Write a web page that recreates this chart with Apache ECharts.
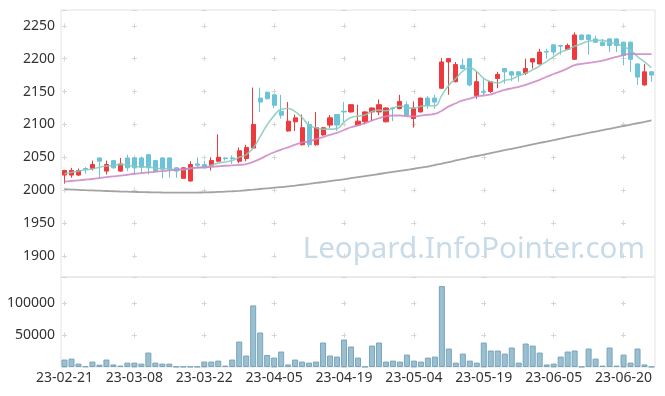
<!DOCTYPE html>
<html>
<head>
<meta charset="utf-8">
<script src="https://cdn.jsdelivr.net/npm/echarts@6/dist/echarts.min.js"></script>
<style>
html,body{margin:0;padding:0;background:#fff;}
#chart{width:665px;height:396px;}
</style>
</head>
<body>
<div id="chart"></div>
<script>
var dates = ['23-02-21','23-02-22','23-02-23','23-02-24','23-02-27','23-02-28','23-03-02','23-03-03','23-03-06','23-03-07',
'23-03-08','23-03-09','23-03-10','23-03-13','23-03-14','23-03-15','23-03-16','23-03-17','23-03-20','23-03-21',
'23-03-22','23-03-23','23-03-24','23-03-27','23-03-28','23-03-29','23-03-30','23-03-31','23-04-03','23-04-04',
'23-04-05','23-04-06','23-04-07','23-04-10','23-04-11','23-04-12','23-04-13','23-04-14','23-04-17','23-04-18',
'23-04-19','23-04-20','23-04-21','23-04-24','23-04-25','23-04-26','23-04-27','23-04-28','23-05-02','23-05-03',
'23-05-04','23-05-08','23-05-09','23-05-10','23-05-11','23-05-12','23-05-15','23-05-16','23-05-17','23-05-18',
'23-05-19','23-05-22','23-05-23','23-05-24','23-05-25','23-05-26','23-05-30','23-05-31','23-06-01','23-06-02',
'23-06-05','23-06-07','23-06-08','23-06-09','23-06-12','23-06-13','23-06-14','23-06-15','23-06-16','23-06-19',
'23-06-20','23-06-21','23-06-22','23-06-23','23-06-26'];

var opens = [2023,2023,2023,2033,2033,2049,2029,2045,2029,2049,
2049,2049,2054,2045,2049,2049,2034,2018,2014,2040,
2039,2038,2044,2049,2049,2044,2048,2064,2140,2149,
2145,2120,2090,2104,2069,2100,2069,2084,2099,2115,
2120,2119,2099,2104,2119,2119,2104,2125,2124,2130,
2109,2119,2140,2140,2155,2195,2165,2190,2200,2144,
2150,2150,2170,2185,2180,2180,2178,2195,2192,2211,
2221,2220,2214,2199,2236,2236,2230,2225,2230,2230,
2225,2225,2192,2160,2180];

var closes = [2030,2030,2030,2032,2039,2044,2039,2034,2040,2034,
2034,2035,2034,2029,2032,2032,2029,2034,2039,2038,
2034,2045,2050,2048,2048,2060,2065,2100,2134,2139,
2129,2114,2105,2110,2095,2069,2095,2095,2110,2099,
2119,2130,2105,2119,2125,2130,2125,2124,2135,2114,
2125,2140,2129,2134,2195,2200,2191,2185,2160,2165,
2149,2165,2176,2180,2175,2175,2185,2200,2210,2210,
2210,2219,2220,2236,2229,2229,2225,2220,2220,2220,
2205,2199,2172,2180,2175];

var lows = [2010,2019,2022,2025,2030,2019,2024,2033,2028,2029,
2024,2026,2024,2028,2018,2019,2019,2018,2013,2033,
2033,2030,2043,2045,2040,2041,2044,2063,2119,2138,
2125,2109,2089,2090,2068,2065,2068,2083,2095,2090,
2104,2118,2098,2100,2105,2114,2103,2105,2123,2113,
2095,2118,2124,2124,2154,2145,2164,2184,2158,2139,
2144,2148,2155,2162,2166,2165,2175,2185,2191,2200,
2205,2206,2213,2198,2228,2206,2224,2219,2210,2210,
2190,2180,2160,2159,2165];

var highs = [2031,2034,2033,2035,2045,2050,2045,2046,2049,2054,
2050,2051,2055,2046,2050,2050,2035,2035,2044,2050,
2045,2050,2085,2050,2053,2065,2069,2156,2156,2150,
2146,2145,2134,2115,2115,2105,2119,2096,2114,2115,
2134,2131,2130,2120,2126,2138,2126,2126,2145,2135,
2135,2141,2143,2145,2201,2201,2195,2200,2201,2180,
2170,2166,2180,2186,2181,2181,2200,2201,2215,2215,
2222,2221,2223,2240,2237,2237,2235,2230,2231,2231,
2226,2226,2193,2192,2181];

var ma5 = [2025,2027,2029,2031,2032.2,2035.0,2036.8,2037.6,2039.2,2038.2,
2036.2,2035.4,2035.4,2033.2,2032.8,2032.4,2031.2,2031.2,2033.2,2034.4,
2034.8,2038.0,2041.2,2043.0,2045.0,2050.2,2054.2,2064.2,2081.4,2099.6,
2113.4,2123.2,2124.2,2119.4,2110.6,2098.6,2094.8,2092.8,2092.8,2093.6,
2103.6,2110.6,2112.6,2114.4,2119.6,2121.8,2120.8,2124.6,2127.8,2125.6,
2124.6,2127.6,2128.6,2128.4,2144.6,2159.6,2169.8,2181.0,2186.2,2180.2,
2170.0,2164.8,2163.0,2167.0,2169.0,2174.2,2178.2,2183.0,2189.0,2196.0,
2203.0,2209.8,2213.8,2219.0,2222.8,2226.6,2227.8,2227.8,2224.6,2222.8,
2218.0,2212.8,2203.2,2195.2,2186.2];

var ma20 = [2013,2014,2015,2016,2017,2018.5,2020,2021,2022,2023.5,
2025,2026,2027,2028,2029,2030,2031,2032,2033,2034.4,
2034.6,2035.4,2036.4,2037.2,2037.6,2038.4,2039.7,2043.0,2047.7,2053.0,
2057.7,2061.7,2065.2,2069.3,2072.4,2074.3,2077.6,2080.6,2084.2,2087.2,
2091.5,2095.7,2098.5,2102.0,2105.9,2109.4,2112.4,2113.6,2113.6,2112.4,
2112.2,2113.5,2114.7,2115.9,2120.9,2127.4,2132.2,2136.7,2139.2,2142.5,
2144.0,2145.8,2149.3,2152.4,2154.9,2157.1,2160.1,2163.9,2167.7,2172.5,
2176.7,2180.7,2185.2,2190.3,2192.0,2193.5,2195.2,2196.9,2199.9,2202.7,
2205.5,2207.2,2207.0,2207.0,2207.0];

var maLong = [2001.5,2001,2000.5,2000,1999.6,1999.2,1998.8,1998.4,1998,1997.7,
1997.4,1997.1,1996.9,1996.7,1996.5,1996.4,1996.3,1996.3,1996.3,1996.4,
1996.6,1996.9,1997.3,1997.8,1998.4,1999.1,1999.9,2000.8,2001.8,2002.8,
2003.8,2004.8,2005.8,2007,2008.3,2009.6,2011,2012.4,2013.8,2015.2,
2016.6,2018.2,2019.8,2021.4,2023,2024.6,2026.2,2027.8,2029.4,2031,
2032.6,2034.3,2036,2038.2,2040.4,2042.8,2045.2,2047.6,2049.8,2052,
2054.2,2056.4,2058.6,2060.8,2063,2065.2,2067.4,2069.6,2071.8,2074,
2076.2,2078.4,2080.6,2082.8,2085,2087.1,2089.2,2091.3,2093.4,2095.5,
2097.6,2099.7,2101.8,2103.9,2106];

var volumes = [11700,13200,5300,1000,8500,3700,11700,4000,2200,6900,
6900,5300,22700,6900,5300,5300,500,500,500,500,
8500,8500,10000,2200,11700,40000,18000,96800,54200,19000,
14800,24300,4000,11700,8500,6900,8500,38500,18000,16400,
43200,32200,14800,500,33700,38500,8500,10000,8500,19500,
10000,8500,14800,16400,127300,29000,6900,21100,10000,6900,
38500,25900,25900,21100,30600,6900,36900,33700,22700,4000,
5300,16400,24300,25900,500,29000,13200,2200,30600,2200,
19500,6900,29000,4000,500];

var watermark = 'Leopard.InfoPointer.com';

var candles = [];
for (var i = 0; i < dates.length; i++) {
  candles.push([opens[i], closes[i], lows[i], highs[i]]);
}

var FONT = 'Noto Sans';
var UP = '#ec3a3d', DOWN = '#6bc3da';
function plain(v) { return String(v); }

var chart = echarts.init(document.getElementById('chart'), null, {renderer: 'canvas'});
var option = {
  animation: false,
  backgroundColor: '#fff',
  grid: [
    {left: 61, right: 10, top: 10, height: 267, show: true, borderColor: '#e3e3e3', borderWidth: 1, backgroundColor: 'transparent'},
    {left: 61, right: 10, top: 277, height: 90, show: true, borderColor: '#e3e3e3', borderWidth: 1, backgroundColor: 'transparent'}
  ],
  graphic: [{
    type: 'text', z: 0, silent: true,
    style: {text: watermark, x: 645, y: 250, align: 'right', verticalAlign: 'middle',
      fontSize: 29.5, fontFamily: FONT, fill: '#c8dbe8'}
  }],
  xAxis: [
    {type: 'category', gridIndex: 0, data: dates, boundaryGap: true,
      axisLine: {show: false}, axisTick: {show: false}, axisLabel: {show: false},
      splitLine: {show: true, interval: 9, alignWithLabel: true,
        lineStyle: {color: '#d6d6d6', width: 1, type: [5, 27.88], dashOffset: 19.6}}},
    {type: 'category', gridIndex: 1, data: dates, boundaryGap: true,
      axisLine: {show: false}, axisTick: {show: false},
      axisLabel: {interval: 9, color: '#333', fontFamily: FONT, fontSize: 14, margin: 4},
      splitLine: {show: true, interval: 9, alignWithLabel: true,
        lineStyle: {color: '#d6d6d6', width: 1, type: [5, 26.8], dashOffset: 7.9}}}
  ],
  yAxis: [
    {type: 'value', gridIndex: 0, min: 1868, max: 2274, splitNumber: 8, scale: true,
      axisLine: {show: false}, axisTick: {show: false},
      axisLabel: {color: '#333', fontFamily: FONT, fontSize: 14, margin: 6, formatter: plain, showMinLabel: false, showMaxLabel: false},
      splitLine: {show: true, lineStyle: {color: '#d6d6d6', width: 1, type: [5, 64.88], dashOffset: 68.88}}},
    {type: 'value', gridIndex: 1, min: 0, max: 141500, splitNumber: 3,
      axisLine: {show: false}, axisTick: {show: false},
      axisLabel: {color: '#333', fontFamily: FONT, fontSize: 14, margin: 6, formatter: plain, showMinLabel: false, showMaxLabel: false},
      splitLine: {show: true, lineStyle: {color: '#d6d6d6', width: 1, type: [5, 64.88], dashOffset: 68.88}}}
  ],
  series: [
    {type: 'candlestick', name: 'price', xAxisIndex: 0, yAxisIndex: 0, data: candles, barWidth: '66%',
      itemStyle: {color: UP, color0: DOWN, borderColor: UP, borderColor0: DOWN, borderWidth: 1}},
    {type: 'line', name: 'MA5', xAxisIndex: 0, yAxisIndex: 0, data: ma5, smooth: true, showSymbol: false,
      lineStyle: {color: '#86cbbb', width: 1.6, opacity: 0.85}},
    {type: 'line', name: 'MA20', xAxisIndex: 0, yAxisIndex: 0, data: ma20, smooth: true, showSymbol: false,
      lineStyle: {color: '#cc86c4', width: 1.8, opacity: 0.85}},
    {type: 'line', name: 'MA120', xAxisIndex: 0, yAxisIndex: 0, data: maLong, smooth: true, showSymbol: false,
      lineStyle: {color: '#999999', width: 1.8, opacity: 0.9}},
    {type: 'bar', name: 'volume', xAxisIndex: 1, yAxisIndex: 1, data: volumes, barWidth: '86%',
      itemStyle: {color: '#99bfd0', borderColor: '#78a5ba', borderWidth: 1}}
  ]
};
chart.setOption(option);
</script>
</body>
</html>
